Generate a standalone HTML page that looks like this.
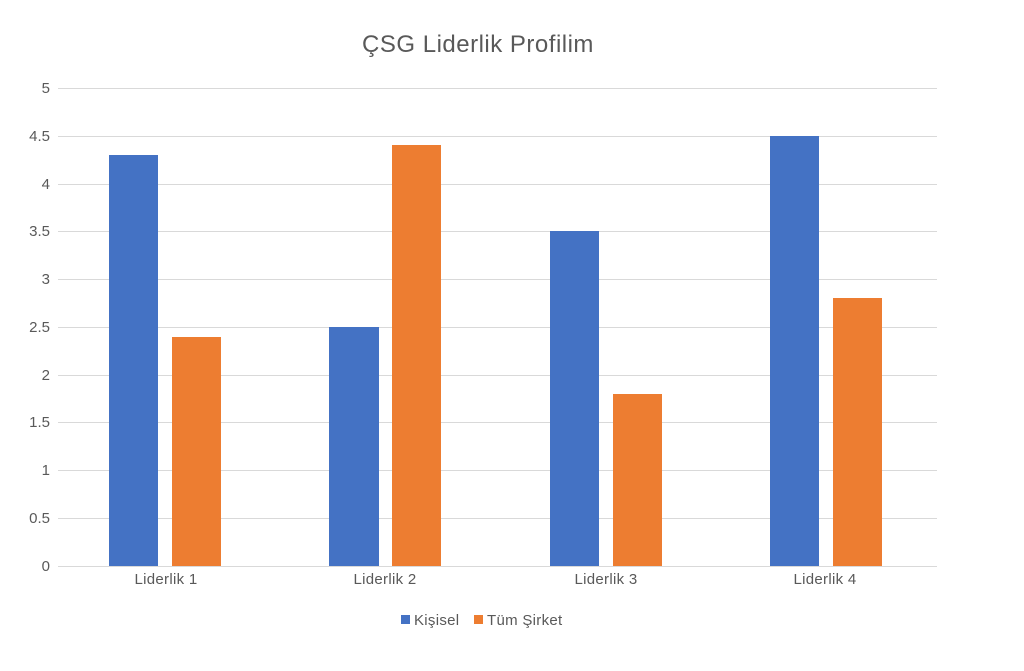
<!DOCTYPE html>
<html><head><meta charset="utf-8"><style>
body{margin:0;background:#fff;}
svg text{font-family:"Liberation Sans","DejaVu Sans",sans-serif;}
</style></head><body>
<svg width="1024" height="666" xmlns="http://www.w3.org/2000/svg">
<rect width="1024" height="666" fill="#fff"/>
<text x="478" y="52" text-anchor="middle" font-size="24" letter-spacing="0.5" fill="#595959">ÇSG Liderlik Profilim</text>
<g stroke="#d9d9d9" stroke-width="1">
<line x1="58" x2="937" y1="88.5" y2="88.5"/>
<line x1="58" x2="937" y1="136.5" y2="136.5"/>
<line x1="58" x2="937" y1="184.5" y2="184.5"/>
<line x1="58" x2="937" y1="231.5" y2="231.5"/>
<line x1="58" x2="937" y1="279.5" y2="279.5"/>
<line x1="58" x2="937" y1="327.5" y2="327.5"/>
<line x1="58" x2="937" y1="375.5" y2="375.5"/>
<line x1="58" x2="937" y1="422.5" y2="422.5"/>
<line x1="58" x2="937" y1="470.5" y2="470.5"/>
<line x1="58" x2="937" y1="518.5" y2="518.5"/>
<line x1="58" x2="937" y1="566.5" y2="566.5"/>
</g>
<g font-size="15" fill="#595959" text-anchor="end">
<text x="50" y="93">5</text><text x="50" y="141">4.5</text><text x="50" y="189">4</text>
<text x="50" y="236">3.5</text><text x="50" y="284">3</text><text x="50" y="332">2.5</text>
<text x="50" y="380">2</text><text x="50" y="427">1.5</text><text x="50" y="475">1</text>
<text x="50" y="523">0.5</text><text x="50" y="571">0</text>
</g>
<g fill="#4472C4">
<rect x="109" y="155" width="49" height="411"/>
<rect x="329" y="327" width="50" height="239"/>
<rect x="550" y="231" width="49" height="335"/>
<rect x="770" y="136" width="49" height="430"/>
</g>
<g fill="#ED7D31">
<rect x="172" y="337" width="49" height="229"/>
<rect x="392" y="145" width="49" height="421"/>
<rect x="613" y="394" width="49" height="172"/>
<rect x="833" y="298" width="49" height="268"/>
</g>
<g font-size="15" letter-spacing="0.3" fill="#595959" text-anchor="middle">
<text x="166" y="584">Liderlik 1</text><text x="385" y="584">Liderlik 2</text>
<text x="606" y="584">Liderlik 3</text><text x="825" y="584">Liderlik 4</text>
</g>
<rect x="401" y="615" width="9" height="9" fill="#4472C4"/>
<text x="414" y="625" font-size="15" letter-spacing="0.3" fill="#595959">Kişisel</text>
<rect x="474" y="615" width="9" height="9" fill="#ED7D31"/>
<text x="487" y="625" font-size="15" letter-spacing="0.3" fill="#595959">Tüm Şirket</text>
</svg>
</body></html>
